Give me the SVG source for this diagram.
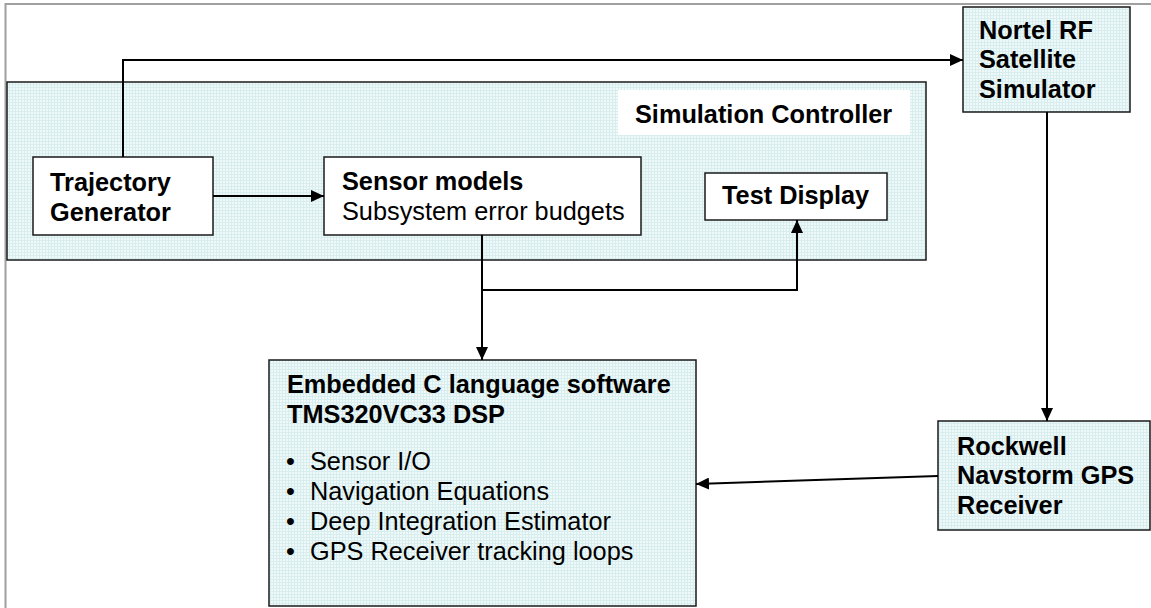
<svg xmlns="http://www.w3.org/2000/svg" width="1151" height="608" viewBox="0 0 1151 608">
<style>
.b{font-family:"Liberation Sans",Arial,sans-serif;font-size:25.3px;font-weight:bold;fill:#000}
.r{font-family:"Liberation Sans",Arial,sans-serif;font-size:25.3px;fill:#000}
.box{stroke:#1a1a1a;stroke-width:1.5}
.tint{fill:url(#grid)}
.white{fill:#fff}
.conn{fill:none;stroke:#000;stroke-width:2}
</style>
<defs>
<pattern id="grid" width="3" height="3" patternUnits="userSpaceOnUse">
<rect width="3" height="3" fill="#f0f9f9"/>
<path d="M0,0.5H3M0.5,0V3" stroke="#d8eeee" stroke-width="1"/>
</pattern>
<marker id="ah" markerUnits="userSpaceOnUse" markerWidth="13" markerHeight="12" refX="13" refY="6" orient="auto">
<path d="M0,0 L13,6 L0,12 z" fill="#000"/>
</marker>
</defs>
<rect width="1151" height="608" fill="#fff"/>
<path d="M5.5,608 V4 H1151" fill="none" stroke="#a0a0a0" stroke-width="2"/>
<g id="simulation-controller">
<rect class="box tint" x="7" y="82" width="919" height="178"/>
<rect x="618" y="90" width="292" height="45" fill="#fff"/>
<text class="b" x="635" y="123">Simulation Controller</text>
</g>
<g id="trajectory-generator">
<rect class="box white" x="33" y="157" width="180" height="78"/>
<text class="b" x="50" y="191">Trajectory</text>
<text class="b" x="50" y="221">Generator</text>
</g>
<g id="sensor-models">
<rect class="box white" x="324" y="157" width="317" height="78"/>
<text class="b" x="342" y="190">Sensor models</text>
<text class="r" x="342" y="220">Subsystem error budgets</text>
</g>
<g id="test-display">
<rect class="box white" x="705" y="173" width="182" height="47"/>
<text class="b" x="722" y="204">Test Display</text>
</g>
<g id="nortel">
<rect class="box tint" x="963" y="7" width="167" height="105"/>
<text class="b" x="979" y="39">Nortel RF</text>
<text class="b" x="979" y="68">Satellite</text>
<text class="b" x="979" y="98">Simulator</text>
</g>
<g id="rockwell">
<rect class="box tint" x="938" y="421" width="212" height="109"/>
<text class="b" x="957" y="455">Rockwell</text>
<text class="b" x="957" y="484">Navstorm GPS</text>
<text class="b" x="957" y="514">Receiver</text>
</g>
<g id="embedded">
<rect class="box tint" x="269" y="360" width="427" height="246"/>
<text class="b" x="287" y="393">Embedded C language software</text>
<text class="b" x="287" y="423">TMS320VC33 DSP</text>
<text class="r" x="286" y="470">•</text>
<text class="r" x="310" y="470">Sensor I/O</text>
<text class="r" x="286" y="500">•</text>
<text class="r" x="310" y="500">Navigation Equations</text>
<text class="r" x="286" y="530">•</text>
<text class="r" x="310" y="530">Deep Integration Estimator</text>
<text class="r" x="286" y="560">•</text>
<text class="r" x="310" y="560">GPS Receiver tracking loops</text>
</g>
<g id="connectors">
<path class="conn" d="M213,196 H324" marker-end="url(#ah)"/>
<path class="conn" d="M123,157 V60 H963" marker-end="url(#ah)"/>
<path class="conn" d="M482,235 V360" marker-end="url(#ah)"/>
<path class="conn" d="M482,290 H797 V220" marker-end="url(#ah)"/>
<path class="conn" d="M1047,112 V421" marker-end="url(#ah)"/>
<path class="conn" d="M938,476 L696,484" marker-end="url(#ah)"/>
</g>
</svg>
